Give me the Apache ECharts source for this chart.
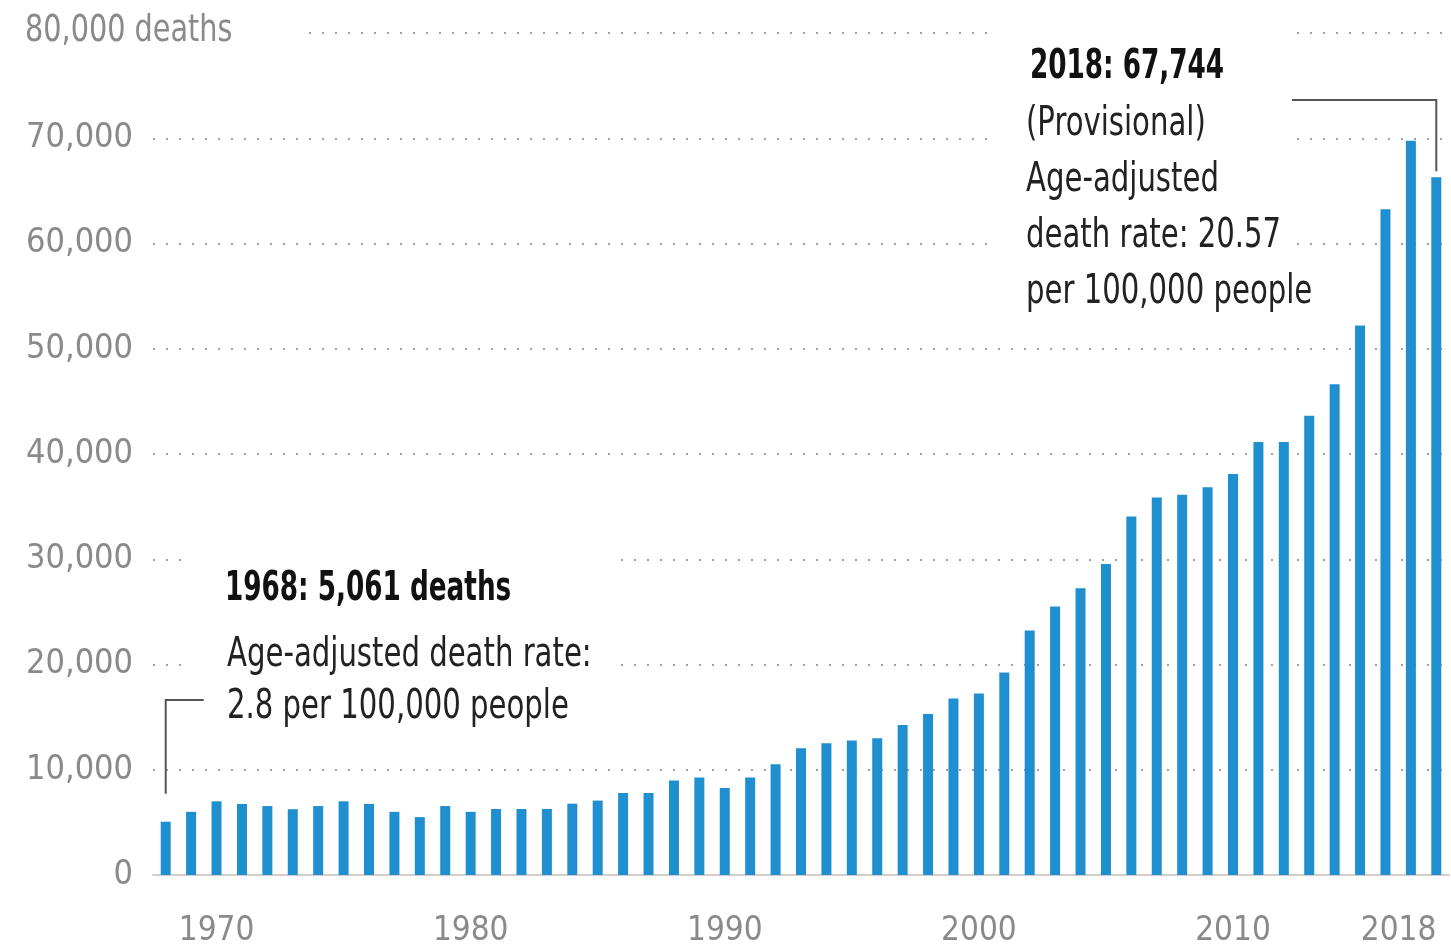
<!DOCTYPE html>
<html lang="en">
<head>
  <meta charset="UTF-8">
  <title>Drug overdose deaths</title>
  <style>
    html, body { margin: 0; padding: 0; background: #fff; }
    #main { width: 1451px; height: 952px; }
  </style>
</head>
<body>
  <div id="main"></div>
  <script src="https://cdn.jsdelivr.net/npm/echarts@6/dist/echarts.min.js"></script>
  <script>
    // years on the x axis
    const years = [
      '1968', '1969', '1970', '1971', '1972', '1973', '1974', '1975', '1976', '1977',
      '1978', '1979', '1980', '1981', '1982', '1983', '1984', '1985', '1986', '1987',
      '1988', '1989', '1990', '1991', '1992', '1993', '1994', '1995', '1996', '1997',
      '1998', '1999', '2000', '2001', '2002', '2003', '2004', '2005', '2006', '2007',
      '2008', '2009', '2010', '2011', '2012', '2013', '2014', '2015', '2016', '2017',
      '2018'
    ];
    // deaths per year
    const deaths = [
      5061, 6000, 7000, 6750, 6550, 6250, 6550, 7000, 6750, 6000,
      5500, 6550, 6000, 6270, 6270, 6270, 6780, 7070, 7790, 7790,
      8990, 9270, 8260, 9270, 10530, 12040, 12520, 12770, 12990, 14260,
      15300, 16770, 17250, 19230, 23240, 25510, 27250, 29550, 34060, 35860,
      36140, 36830, 38100, 41150, 41150, 43630, 46620, 52200, 63250, 69760,
      66300
    ];
    const yearTicks = ['1970', '1980', '1990', '2000', '2010', '2018'];
    const note1968 = ['1968: 5,061 deaths', 'Age-adjusted death rate:', '2.8 per 100,000 people'];
    const note2018 = ['2018: 67,744', '(Provisional)', 'Age-adjusted', 'death rate: 20.57', 'per 100,000 people'];

    const FONT = '"Liberation Sans Narrow", "DejaVu Sans Condensed", sans-serif';
    const grey = '#8a8a8a';

    let chart = echarts.init(document.getElementById('main'));
    const showTick = (i, v) => yearTicks.includes(v);

    chart.setOption({
      animation: false,
      grid: { left: 153, right: 2, top: 33, bottom: 77, outerBoundsMode: 'none', containLabel: false },
      xAxis: {
        type: 'category',
        data: years,
        axisLine: { lineStyle: { color: '#d5cec8', width: 2 } },
        axisTick: { interval: showTick, alignWithLabel: true, length: 18, lineStyle: { color: '#bdbdbd', width: 2 } },
        axisLabel: { interval: showTick, color: grey, fontSize: 33, fontFamily: FONT, margin: 40, alignMaxLabel: 'right' }
      },
      yAxis: {
        type: 'value',
        min: 0,
        max: 80000,
        interval: 10000,
        axisLine: { show: false },
        axisTick: { show: false },
        axisLabel: {
          color: grey, fontSize: 34, fontFamily: FONT, margin: 20,
          formatter: v => v === 80000 ? '' : v.toLocaleString('en-US')
        },
        splitLine: { lineStyle: { color: '#a0a0a0', type: [2, 11], width: 2 } }
      },
      series: [{
        type: 'bar',
        data: deaths,
        barWidth: 10,
        itemStyle: { color: '#1f8fcf' }
      }]
    });

    // annotations, anchored on the first and last bars
    const p68 = chart.convertToPixel({ gridIndex: 0 }, [years[0], deaths[0]]);
    const p18 = chart.convertToPixel({ gridIndex: 0 }, [years[50], deaths[50]]);
    const top80 = chart.convertToPixel({ yAxisIndex: 0 }, 80000);

    // condensed look: squeeze the available font horizontally
    const textEl = (txt, x, y, bold) => ({
      type: 'text', z: 10, x: x, y: y, scaleX: bold ? 0.73 : 0.81,
      style: {
        text: txt, x: 0, y: 0, fill: bold ? '#111' : '#222',
        fontSize: 40, fontWeight: bold ? 'bold' : 'normal', fontFamily: FONT,
        verticalAlign: 'middle'
      }
    });
    const mask = (x, y, w, h) => ({ type: 'rect', z: 5, shape: { x, y, width: w, height: h }, style: { fill: '#fff' } });

    let g = [];
    // y-axis title at the top
    g.push(mask(0, top80 - 16, 298, 32));
    g.push({
      type: 'text', z: 10, x: 25, y: top80 - 2, scaleX: 0.84,
      style: { text: '80,000 deaths', x: 0, y: 0, fill: grey, fontSize: 38, fontFamily: FONT, verticalAlign: 'middle' }
    });

    // 1968 note
    g.push(mask(184, 545, 436, 190));
    g.push(textEl(note1968[0], 225, 590, true));
    g.push(textEl(note1968[1], 227, 656, false));
    g.push(textEl(note1968[2], 227, 708, false));
    g.push({ type: 'polyline', z: 10, shape: { points: [[p68[0], p68[1] - 28], [p68[0], 700], [p68[0] + 38, 700]] }, style: { stroke: '#555', lineWidth: 2, fill: null } });

    // 2018 note
    g.push(mask(996, 0, 294, 322));
    g.push(textEl(note2018[0], 1030, 68, true));
    note2018.slice(1).forEach((t, i) => g.push(textEl(t, 1026, 125 + i * 56, false)));
    g.push({ type: 'polyline', z: 10, shape: { points: [[1292, 100], [p18[0], 100], [p18[0], p18[1] - 6]] }, style: { stroke: '#555', lineWidth: 2, fill: null } });

    chart.setOption({ graphic: g });
  </script>
</body>
</html>
